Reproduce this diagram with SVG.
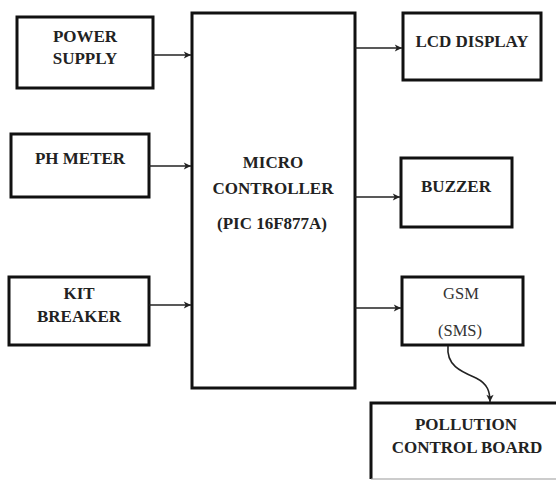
<svg xmlns="http://www.w3.org/2000/svg" width="556" height="480" viewBox="0 0 556 480">
<defs>
<style>
.box{fill:#fff;stroke:#111;stroke-width:3}
.t{font-family:'Liberation Serif','Times New Roman',serif;font-weight:bold;font-size:17px;fill:#222;text-anchor:middle}
.s{font-family:'Liberation Serif','Times New Roman',serif;font-size:16.5px;fill:#333;text-anchor:middle}
.c{fill:none;stroke:#222;stroke-width:1.6}
</style>
<marker id="ah" viewBox="0 0 10 10" refX="9" refY="5" markerWidth="9" markerHeight="9" markerUnits="userSpaceOnUse" orient="auto">
<path d="M1,1 L9,5 L1,9 L3,5 Z" fill="#222"/>
</marker>
</defs>
<rect width="556" height="480" fill="#fff"/>
<g id="power-supply">
<rect class="box" x="17" y="17" width="136" height="71" stroke-width="4"/>
<text class="t" x="85" y="42">POWER</text>
<text class="t" x="85" y="64">SUPPLY</text>
</g>
<g id="ph-meter">
<rect class="box" x="11" y="134" width="138" height="63"/>
<text class="t" x="80" y="164">PH METER</text>
</g>
<g id="kit-breaker">
<rect class="box" x="9" y="277" width="140" height="68"/>
<text class="t" x="79" y="299">KIT</text>
<text class="t" x="79" y="322">BREAKER</text>
</g>
<g id="micro-controller">
<rect class="box" x="192" y="13" width="163" height="375"/>
<text class="t" x="273" y="168">MICRO</text>
<text class="t" x="273" y="194">CONTROLLER</text>
<text class="t" x="272" y="229">(PIC 16F877A)</text>
</g>
<g id="lcd-display">
<rect class="box" x="403" y="13" width="138" height="67"/>
<text class="t" x="472" y="47">LCD DISPLAY</text>
</g>
<g id="buzzer">
<rect class="box" x="401" y="158" width="111" height="69"/>
<text class="t" x="456" y="192">BUZZER</text>
</g>
<g id="gsm">
<rect class="box" x="402" y="277" width="121" height="68"/>
<text class="s" x="461" y="299">GSM</text>
<text class="s" x="460" y="336">(SMS)</text>
</g>
<g id="pollution-control-board">
<rect x="371" y="403" width="200" height="76" fill="#fff" stroke="none"/>
<path d="M371,479 L371,403 L560,403" fill="none" stroke="#111" stroke-width="3"/>
<line x1="371" y1="479" x2="560" y2="479" stroke="#999" stroke-width="1.2"/>
<text class="t" x="466" y="430">POLLUTION</text>
<text class="t" x="467" y="453">CONTROL BOARD</text>
</g>
<g id="connectors">
<line class="c" x1="153" y1="55" x2="191" y2="55" marker-end="url(#ah)"/>
<line class="c" x1="149" y1="166" x2="191" y2="166" marker-end="url(#ah)"/>
<line class="c" x1="149" y1="305" x2="191" y2="305" marker-end="url(#ah)"/>
<line class="c" x1="355" y1="48" x2="402" y2="48" marker-end="url(#ah)"/>
<line class="c" x1="355" y1="197" x2="400" y2="197" marker-end="url(#ah)"/>
<line class="c" x1="355" y1="308" x2="401" y2="308" marker-end="url(#ah)"/>
<path class="c" d="M448,346 C446,366 462,372 476,378 C488,384 490,392 490,402" marker-end="url(#ah)"/>
</g>
</svg>
